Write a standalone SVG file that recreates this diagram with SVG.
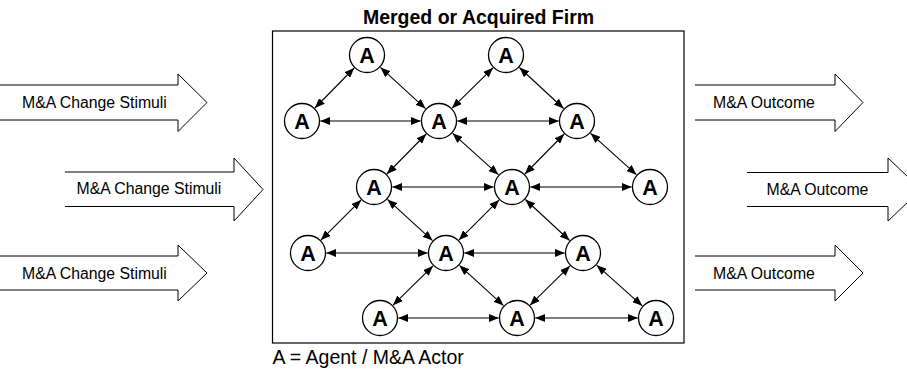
<svg xmlns="http://www.w3.org/2000/svg" width="907" height="375" viewBox="0 0 907 375">
  <style>
    .block { fill: #fff; stroke: #000; stroke-width: 1; }
    .lbl { font-family: "Liberation Sans", Arial, sans-serif; font-size: 15.8px; fill: #000; }
    .title { font-family: "Liberation Sans", Arial, sans-serif; font-size: 19.5px; font-weight: bold; fill: #000; }
    .legend { font-family: "Liberation Sans", Arial, sans-serif; font-size: 19.5px; fill: #000; }
    .agent circle { fill: #fff; stroke: #000; stroke-width: 1.3; }
    .agent text { font-family: "Liberation Sans", Arial, sans-serif; font-size: 21.5px; font-weight: bold; text-anchor: middle; fill: #000; }
    .link { stroke: #000; stroke-width: 1.1; fill: none; marker-start: url(#tip); marker-end: url(#tip); }
  </style>
  <defs>
    <marker id="tip" viewBox="0 0 10 8" refX="10" refY="4" markerWidth="10" markerHeight="8" markerUnits="userSpaceOnUse" orient="auto-start-reverse">
      <path d="M0,0 L10,4 L0,8 z" fill="#000"/>
    </marker>
  </defs>

  <rect width="907" height="375" fill="#fff"/>

  <!-- incoming stimuli -->
  <g id="stimulus-1">
    <path class="block" d="M0,85 H178 V74 L207,102.5 L178,131.5 V120 H0"/>
    <text class="lbl" x="22" y="107.5">M&amp;A Change Stimuli</text>
  </g>
  <g id="stimulus-2">
    <path class="block" d="M65,172 H234 V158 L263,189.5 L234,221 V206.5 H65"/>
    <text class="lbl" x="76.5" y="194">M&amp;A Change Stimuli</text>
  </g>
  <g id="stimulus-3">
    <path class="block" d="M0,256 H178 V245 L207,273 L178,301 V290 H0"/>
    <text class="lbl" x="22" y="278.5">M&amp;A Change Stimuli</text>
  </g>

  <!-- firm boundary -->
  <g id="firm">
    <rect x="272.5" y="31" width="411.5" height="312" fill="#fff" stroke="#000" stroke-width="1.2"/>
    <text class="title" x="478.5" y="23.5" text-anchor="middle">Merged or Acquired Firm</text>
  </g>

  <!-- outcomes -->
  <g id="outcome-1">
    <path class="block" d="M695,85 H835 V74 L863,102.5 L835,131.5 V120 H695"/>
    <text class="lbl" x="713" y="107.5">M&amp;A Outcome</text>
  </g>
  <g id="outcome-2">
    <path class="block" d="M747,172.5 H888 V158 L921,189.5 L888,221 V206.5 H747"/>
    <text class="lbl" x="766.5" y="195">M&amp;A Outcome</text>
  </g>
  <g id="outcome-3">
    <path class="block" d="M695,256 H835 V245 L863,273 L835,301 V290 H695"/>
    <text class="lbl" x="713" y="278.5">M&amp;A Outcome</text>
  </g>

  <!-- two-way links between agents -->
  <g id="links">
    <!-- horizontal -->
    <line class="link" x1="320.3" y1="121" x2="420.7" y2="121"/>
    <line class="link" x1="457.3" y1="121" x2="558.7" y2="121"/>
    <line class="link" x1="392.3" y1="187" x2="493.7" y2="187"/>
    <line class="link" x1="530.3" y1="187" x2="631.7" y2="187"/>
    <line class="link" x1="326.3" y1="253" x2="427.7" y2="253"/>
    <line class="link" x1="464.3" y1="253" x2="564.7" y2="253"/>
    <line class="link" x1="398.3" y1="318" x2="498.7" y2="318"/>
    <line class="link" x1="535.3" y1="318" x2="637.7" y2="318"/>
    <!-- diagonal -->
    <line class="link" x1="354.2" y1="68" x2="314.9" y2="108"/>
    <line class="link" x1="380.5" y1="67.4" x2="425.5" y2="108.6"/>
    <line class="link" x1="493" y1="67.8" x2="452" y2="108.2"/>
    <line class="link" x1="519.4" y1="67.5" x2="563.6" y2="108.5"/>
    <line class="link" x1="426.2" y1="134" x2="386.9" y2="174"/>
    <line class="link" x1="452.6" y1="133.3" x2="498.4" y2="174.7"/>
    <line class="link" x1="564.2" y1="134" x2="524.9" y2="174"/>
    <line class="link" x1="590.6" y1="133.3" x2="636.4" y2="174.7"/>
    <line class="link" x1="361.1" y1="199.9" x2="320.9" y2="240.1"/>
    <line class="link" x1="387.5" y1="199.4" x2="432.5" y2="240.6"/>
    <line class="link" x1="499.1" y1="199.9" x2="458.9" y2="240.1"/>
    <line class="link" x1="525.4" y1="199.5" x2="569.6" y2="240.5"/>
    <line class="link" x1="433" y1="265.9" x2="393" y2="305.2"/>
    <line class="link" x1="459.5" y1="265.4" x2="503.5" y2="305.6"/>
    <line class="link" x1="570" y1="265.9" x2="530" y2="305.2"/>
    <line class="link" x1="596.7" y1="265.2" x2="642.3" y2="305.8"/>
  </g>

  <!-- agents -->
  <g id="agent-1-1" class="agent"><circle cx="367" cy="55" r="17.5"/><text x="367" y="62.7">A</text></g>
  <g id="agent-1-2" class="agent"><circle cx="506" cy="55" r="17.5"/><text x="506" y="62.7">A</text></g>
  <g id="agent-2-1" class="agent"><circle cx="302" cy="121" r="17.5"/><text x="302" y="128.7">A</text></g>
  <g id="agent-2-2" class="agent"><circle cx="439" cy="121" r="17.5"/><text x="439" y="128.7">A</text></g>
  <g id="agent-2-3" class="agent"><circle cx="577" cy="121" r="17.5"/><text x="577" y="128.7">A</text></g>
  <g id="agent-3-1" class="agent"><circle cx="374" cy="187" r="17.5"/><text x="374" y="194.7">A</text></g>
  <g id="agent-3-2" class="agent"><circle cx="512" cy="187" r="17.5"/><text x="512" y="194.7">A</text></g>
  <g id="agent-3-3" class="agent"><circle cx="650" cy="187" r="17.5"/><text x="650" y="194.7">A</text></g>
  <g id="agent-4-1" class="agent"><circle cx="308" cy="253" r="17.5"/><text x="308" y="260.7">A</text></g>
  <g id="agent-4-2" class="agent"><circle cx="446" cy="253" r="17.5"/><text x="446" y="260.7">A</text></g>
  <g id="agent-4-3" class="agent"><circle cx="583" cy="253" r="17.5"/><text x="583" y="260.7">A</text></g>
  <g id="agent-5-1" class="agent"><circle cx="380" cy="318" r="17.5"/><text x="380" y="325.7">A</text></g>
  <g id="agent-5-2" class="agent"><circle cx="517" cy="318" r="17.5"/><text x="517" y="325.7">A</text></g>
  <g id="agent-5-3" class="agent"><circle cx="656" cy="318" r="17.5"/><text x="656" y="325.7">A</text></g>

  <!-- key -->
  <g id="legend">
    <text class="legend" x="272.5" y="364">A = Agent / M&amp;A Actor</text>
  </g>
</svg>
